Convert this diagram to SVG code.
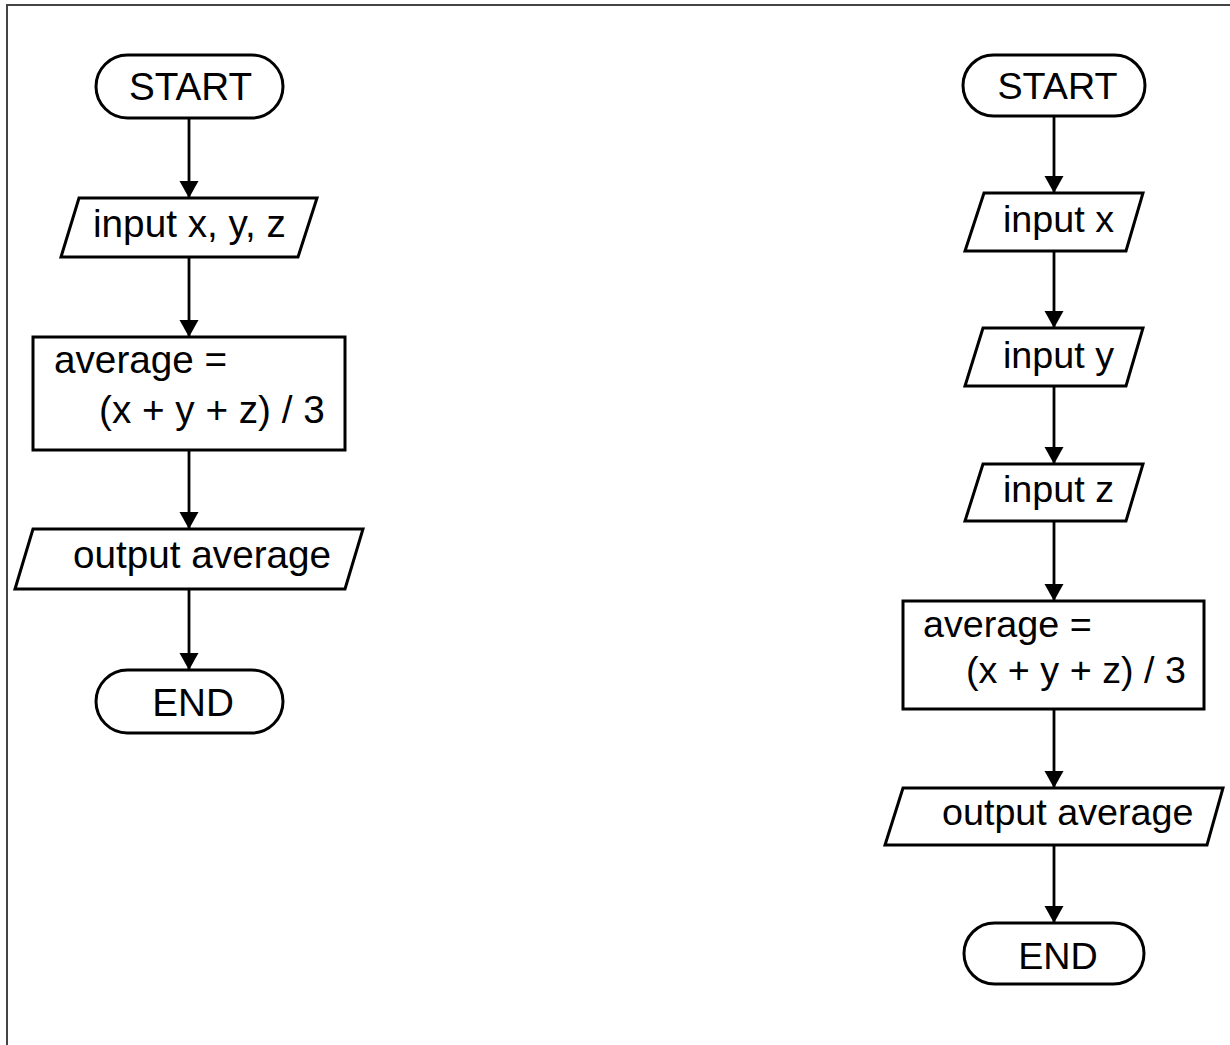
<svg xmlns="http://www.w3.org/2000/svg" width="1230" height="1045" viewBox="0 0 1230 1045">
<style>
.s{fill:#fff;stroke:#000;stroke-width:3}
.t{font-family:"Liberation Sans",Arial,sans-serif;font-size:38.7px;fill:#000}
.r{font-size:37.7px}
.m{text-anchor:middle}
.c{stroke:#000;stroke-width:2.8;fill:none;marker-end:url(#ah)}
</style>
<defs>
<marker id="ah" markerUnits="userSpaceOnUse" markerWidth="18" markerHeight="20" refX="17" refY="9.5" orient="auto" viewBox="0 0 18 20">
<path d="M0,0 L17,9.5 L0,19 z" fill="#000"/>
</marker>
</defs>
<rect width="1230" height="1045" fill="#fff"/>
<path d="M7,1045 V5 H1230" fill="none" stroke="#444" stroke-width="2"/>
<g id="connectors">
<line class="c" x1="189" y1="118" x2="189" y2="198"/>
<line class="c" x1="189" y1="257" x2="189" y2="337"/>
<line class="c" x1="189" y1="450" x2="189" y2="529"/>
<line class="c" x1="189" y1="589" x2="189" y2="670"/>
<line class="c" x1="1054" y1="116" x2="1054" y2="193"/>
<line class="c" x1="1054" y1="251" x2="1054" y2="328"/>
<line class="c" x1="1054" y1="386" x2="1054" y2="464"/>
<line class="c" x1="1054" y1="521" x2="1054" y2="601"/>
<line class="c" x1="1054" y1="709" x2="1054" y2="788"/>
<line class="c" x1="1054" y1="845" x2="1054" y2="923"/>
</g>
<g id="l-start"><rect class="s" x="96" y="55" width="187" height="63" rx="31.5"/><text class="t m" x="190.5" y="100">START</text></g>
<g id="l-input"><polygon class="s" points="79,198 317,198 298,257 61,257"/><text class="t" x="93" y="237">input x, y, z</text></g>
<g id="l-calc"><rect class="s" x="33" y="337" width="312" height="113"/><text class="t" x="54" y="373">average =</text><text class="t" x="99" y="423">(x + y + z) / 3</text></g>
<g id="l-output"><polygon class="s" points="33,529 363,529 345,589 15,589"/><text class="t" x="73" y="568">output average</text></g>
<g id="l-end"><rect class="s" x="96" y="670" width="187" height="63" rx="31.5"/><text class="t m" x="193" y="716">END</text></g>
<g id="r-start"><rect class="s" x="963" y="55" width="182" height="61" rx="30.5"/><text class="t r m" x="1057.5" y="99">START</text></g>
<g id="r-input-x"><polygon class="s" points="984,193 1143,193 1126,251 965,251"/><text class="t r" x="1003" y="232">input x</text></g>
<g id="r-input-y"><polygon class="s" points="983,328 1143,328 1126,386 965,386"/><text class="t r" x="1003" y="368">input y</text></g>
<g id="r-input-z"><polygon class="s" points="983,464 1143,464 1126,521 965,521"/><text class="t r" x="1003" y="502">input z</text></g>
<g id="r-calc"><rect class="s" x="903" y="601" width="301" height="108"/><text class="t r" x="923" y="637">average =</text><text class="t r" x="966" y="683">(x + y + z) / 3</text></g>
<g id="r-output"><polygon class="s" points="903,788 1223,788 1207,845 885,845"/><text class="t r" x="942" y="825">output average</text></g>
<g id="r-end"><rect class="s" x="964" y="923" width="180" height="61" rx="30.5"/><text class="t r m" x="1058" y="969">END</text></g>
</svg>
